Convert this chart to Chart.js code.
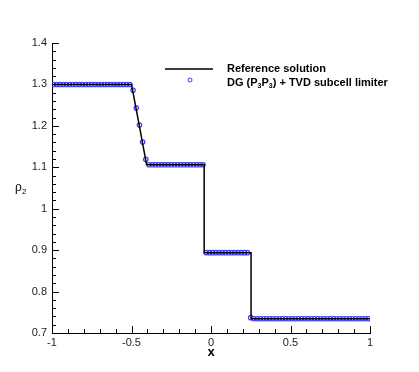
<!DOCTYPE html>
<html lang="en">
<head>
  <meta charset="UTF-8">
  <title>rho2 profile</title>
  <script src="https://cdn.jsdelivr.net/npm/chart.js"></script>
  <style>
    body { margin: 0; background: #fff; }
  </style>
</head>
<body>
  <canvas id="rhoChart" width="419" height="372"></canvas>

  <script>
    // reference (exact) solution, corner points
    const refX = [-1, -0.5, -0.45, -0.405, -0.043, -0.043, 0.252, 0.252, 1];
    const refRho = [1.3, 1.3, 1.199, 1.106, 1.106, 0.894, 0.894, 0.7345, 0.7345];

    // DG (P3P3) cell values, one per cell centre
    const dgX = [
      -0.99, -0.97, -0.95, -0.93, -0.91, -0.89, -0.87, -0.85, -0.83, -0.81,
      -0.79, -0.77, -0.75, -0.73, -0.71, -0.69, -0.67, -0.65, -0.63, -0.61,
      -0.59, -0.57, -0.55, -0.53, -0.51, -0.49, -0.47, -0.45, -0.43, -0.41,
      -0.39, -0.37, -0.35, -0.33, -0.31, -0.29, -0.27, -0.25, -0.23, -0.21,
      -0.19, -0.17, -0.15, -0.13, -0.11, -0.09, -0.07, -0.05, -0.03, -0.01,
      0.01, 0.03, 0.05, 0.07, 0.09, 0.11, 0.13, 0.15, 0.17, 0.19,
      0.21, 0.23, 0.25, 0.27, 0.29, 0.31, 0.33, 0.35, 0.37, 0.39,
      0.41, 0.43, 0.45, 0.47, 0.49, 0.51, 0.53, 0.55, 0.57, 0.59,
      0.61, 0.63, 0.65, 0.67, 0.69, 0.71, 0.73, 0.75, 0.77, 0.79,
      0.81, 0.83, 0.85, 0.87, 0.89, 0.91, 0.93, 0.95, 0.97, 0.99
    ];
    const dgRho = [
      1.3, 1.3, 1.3, 1.3, 1.3, 1.3, 1.3, 1.3, 1.3, 1.3,
      1.3, 1.3, 1.3, 1.3, 1.3, 1.3, 1.3, 1.3, 1.3, 1.3,
      1.3, 1.3, 1.3, 1.3, 1.3, 1.286, 1.243, 1.202, 1.161, 1.119,
      1.106, 1.106, 1.106, 1.106, 1.106, 1.106, 1.106, 1.106, 1.106, 1.106,
      1.106, 1.106, 1.106, 1.106, 1.106, 1.106, 1.106, 1.106, 0.894, 0.894,
      0.894, 0.894, 0.894, 0.894, 0.894, 0.894, 0.894, 0.894, 0.894, 0.894,
      0.894, 0.894, 0.737, 0.7345, 0.7345, 0.7345, 0.7345, 0.7345, 0.7345, 0.7345,
      0.7345, 0.7345, 0.7345, 0.7345, 0.7345, 0.7345, 0.7345, 0.7345, 0.7345, 0.7345,
      0.7345, 0.7345, 0.7345, 0.7345, 0.7345, 0.7345, 0.7345, 0.7345, 0.7345, 0.7345,
      0.7345, 0.7345, 0.7345, 0.7345, 0.7345, 0.7345, 0.7345, 0.7345, 0.7345, 0.7345
    ];

    const xMajor = [-1, -0.5, 0, 0.5, 1];
    const yMajor = [0.7, 0.8, 0.9, 1, 1.1, 1.2, 1.3, 1.4];

    const FONT = "'Liberation Sans', Arial, sans-serif";
    const markColor = '#3c3cff';

    const isMajor = (v, list) => list.some(m => Math.abs(m - v) < 1e-6);

    // tecplot style ticks: pointing into the plot, long for labelled ones
    const innerTicks = {
      id: 'innerTicks',
      afterDatasetsDraw(chart) {
        const ctx = chart.ctx;
        const a = chart.chartArea;
        const xs = chart.scales.x, ys = chart.scales.y;
        ctx.save();
        ctx.strokeStyle = '#000';
        ctx.lineWidth = 1;
        ctx.beginPath();
        xs.ticks.forEach(t => {
          const px = Math.round(xs.getPixelForValue(t.value)) + 0.5;
          const len = isMajor(t.value, xMajor) ? 7 : 4;
          ctx.moveTo(px, a.bottom);
          ctx.lineTo(px, a.bottom - len);
        });
        ys.ticks.forEach(t => {
          const py = Math.round(ys.getPixelForValue(t.value)) + 0.5;
          const len = isMajor(t.value, yMajor) ? 7 : 4;
          ctx.moveTo(a.left, py);
          ctx.lineTo(a.left + len, py);
        });
        ctx.stroke();
        ctx.restore();
      }
    };

    // y title is upright with a subscript, and the legend has subscripts too
    const labels = {
      id: 'labels',
      afterDraw(chart) {
        const { ctx, chartArea: a } = chart;
        ctx.save();
        ctx.fillStyle = '#000';
        ctx.textBaseline = 'middle';

        const midY = (a.top + a.bottom) / 2;
        ctx.font = '12px ' + FONT;
        ctx.fillText('\u03c1', 15, midY);
        ctx.font = '8px ' + FONT;
        ctx.fillText('2', 22, midY + 4);

        // legend
        const lx = 165, ly = 69, tx = 227;
        ctx.strokeStyle = '#000';
        ctx.lineWidth = 1.5;
        ctx.beginPath();
        ctx.moveTo(lx, ly);
        ctx.lineTo(lx + 48, ly);
        ctx.stroke();
        ctx.font = 'bold 11px ' + FONT;
        ctx.fillText(chart.data.datasets[0].label, tx, ly);

        ctx.strokeStyle = markColor;
        ctx.lineWidth = 1;
        ctx.beginPath();
        ctx.arc(lx + 25, ly + 11, 2, 0, Math.PI * 2);
        ctx.stroke();

        let cx = tx;
        const row = ly + 14;
        const parts = [['DG (P', false], ['3', true], ['P', false], ['3', true], [') + TVD subcell limiter', false]];
        parts.forEach(([s, sub]) => {
          ctx.font = sub ? 'bold 7px ' + FONT : 'bold 11px ' + FONT;
          ctx.fillText(s, cx, sub ? row + 3 : row);
          cx += ctx.measureText(s).width;
        });
        ctx.restore();
      }
    };

    new Chart(document.getElementById('rhoChart'), {
      type: 'scatter',
      data: {
        datasets: [
          {
            label: 'Reference solution',
            data: refX.map((v, i) => ({ x: v, y: refRho[i] })),
            showLine: true,
            borderColor: '#000',
            borderWidth: 1.5,
            pointRadius: 0,
            fill: false
          },
          {
            label: 'DG (P3P3) + TVD subcell limiter',
            data: dgX.map((v, i) => ({ x: v, y: dgRho[i] })),
            showLine: false,
            pointStyle: 'circle',
            pointRadius: 2.2,
            borderWidth: 1.2,
            borderColor: markColor,
            backgroundColor: 'rgba(0,0,0,0)'
          }
        ]
      },
      options: {
        responsive: false,
        animation: false,
        layout: { padding: { top: 43, right: 49, left: 0, bottom: 0 } },
        plugins: {
          legend: { display: false },
          tooltip: { enabled: false }
        },
        scales: {
          x: {
            type: 'linear',
            min: -1,
            max: 1,
            afterFit: s => { s.height = 39; },
            grid: { display: false, drawTicks: false },
            border: { display: true, color: '#000', width: 1 },
            ticks: {
              stepSize: 0.1,
              autoSkip: false,
              maxRotation: 0,
              padding: 3,
              color: '#222',
              font: { family: FONT, size: 11 },
              callback: v => isMajor(v, xMajor) ? String(Math.round(v * 10) / 10) : ''
            },
            title: {
              display: true,
              text: 'x',
              color: '#000',
              padding: { top: 0, bottom: 12 },
              font: { family: FONT, size: 13, weight: 'bold' }
            }
          },
          y: {
            type: 'linear',
            min: 0.7,
            max: 1.4,
            afterFit: s => { s.width = 52; },
            grid: { display: false, drawTicks: false },
            border: { display: true, color: '#000', width: 1 },
            ticks: {
              stepSize: 0.02,
              autoSkip: false,
              padding: 5,
              color: '#222',
              font: { family: FONT, size: 11 },
              callback: v => isMajor(v, yMajor) ? String(Math.round(v * 10) / 10) : ''
            }
          }
        }
      },
      plugins: [innerTicks, labels]
    });
  </script>
</body>
</html>
